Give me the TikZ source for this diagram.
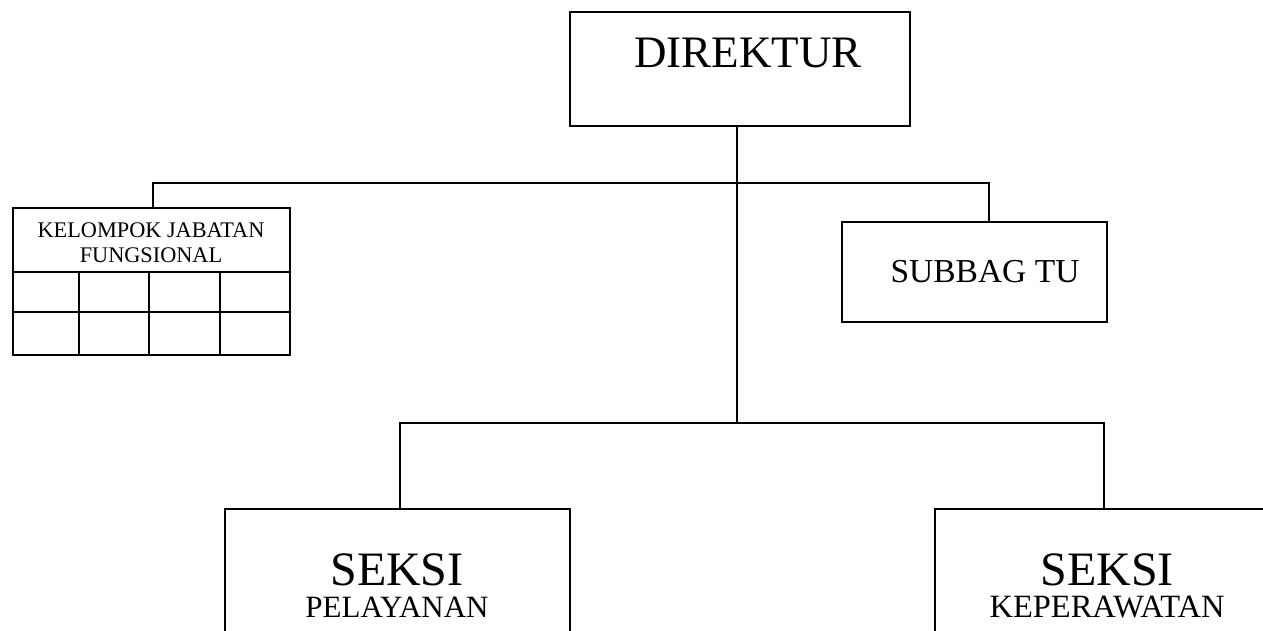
\documentclass[tikz,border=0pt]{standalone}
\usepackage{fontspec}
\setmainfont{Liberation Serif}
\begin{document}
\begin{tikzpicture}[x=1pt,y=-1pt,
  box/.style={draw=black,line width=1.6pt,rectangle,inner sep=0pt,anchor=north west},
  conn/.style={draw=black,line width=1.3pt},
  lbl/.style={anchor=base,inner sep=0pt,text=black}]
\useasboundingbox (0,0) rectangle (1263,631);
\clip (0,0) rectangle (1263,631);
% boxes
\node[box,minimum width=340pt,minimum height=114pt] (dir) at (569,11) {};
\node[box,minimum width=277pt,minimum height=147pt] (kjf) at (12,207) {};
\node[box,minimum width=265pt,minimum height=100pt] (sub) at (841,221) {};
\node[box,minimum width=345pt,minimum height=150pt] (pel) at (224,508) {};
\node[box,minimum width=346pt,minimum height=150pt] (kep) at (934,508) {};
% table grid
\coordinate (h1) at (0,272);
\coordinate (h2) at (0,312);
\draw[line width=1.6pt] (kjf.west |- h1) -- (kjf.east |- h1);
\draw[line width=1.3pt] (kjf.west |- h2) -- (kjf.east |- h2);
\coordinate (c1) at (79,0);
\coordinate (c2) at (149,0);
\coordinate (c3) at (220,0);
\foreach \c in {c1,c2,c3}{\draw[line width=1.6pt] (\c |- h1) -- (\c |- kjf.south);}
% labels
\node[lbl,font=\fontsize{45}{54}\selectfont] (tdir) at (748,68) {DIREKTUR};
\node[lbl,font=\fontsize{22.3}{26}\selectfont] (tkjf1) at (151,237) {KELOMPOK JABATAN};
\node[lbl,font=\fontsize{22.3}{26}\selectfont] (tkjf2) at (151,262) {FUNGSIONAL};
\node[lbl,font=\fontsize{33.5}{40}\selectfont] (tsub) at (985,282) {SUBBAG TU};
\node[lbl,font=\fontsize{48}{56}\selectfont] (tpel1) at (397,585) {SEKSI};
\node[lbl,font=\fontsize{31}{36}\selectfont] (tpel2) at (397,617) {PELAYANAN};
\node[lbl,font=\fontsize{48}{56}\selectfont] (tkep1) at (1107,585) {SEKSI};
\node[lbl,font=\fontsize{32.5}{38}\selectfont] (tkep2) at (1107,617) {KEPERAWATAN};
% connectors
\coordinate (tl) at (153,183);
\coordinate (tr) at (989,183);
\coordinate (bl) at (400,423);
\coordinate (br) at (1104,423);
\coordinate (stem) at (737,0);
\draw[conn] (tl |- kjf.north) -- (tl) -- (tr) -- (tr |- sub.north);
\draw[conn] (stem |- dir.south) -- (stem |- bl);
\draw[conn] (bl |- pel.north) -- (bl) -- (br) -- (br |- kep.north);
\end{tikzpicture}
\end{document}
